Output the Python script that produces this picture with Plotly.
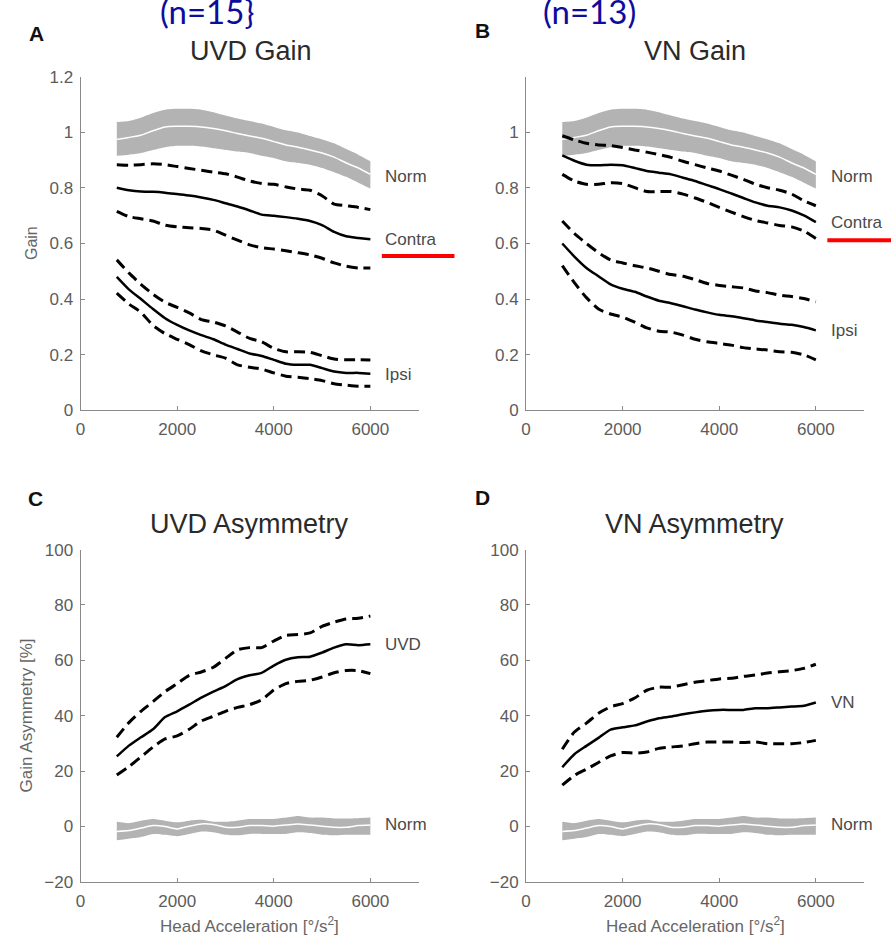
import plotly.graph_objects as go

# Head acceleration sample points [deg/s^2]
accel = [750, 1000, 1250, 1500, 1750, 2000, 2250, 2500, 2750, 3000, 3250,
         3500, 3750, 4000, 4250, 4500, 4750, 5000, 5250, 5500, 5750, 6000]

# Normal-subject gain (mean and band limits)
norm_gain_mean = [0.975, 0.982, 0.990, 1.006, 1.020, 1.022, 1.022, 1.020, 1.014, 1.006, 0.996,
                  0.987, 0.979, 0.967, 0.955, 0.947, 0.937, 0.926, 0.911, 0.890, 0.872, 0.849]
norm_gain_hi = [1.038, 1.041, 1.053, 1.070, 1.082, 1.085, 1.085, 1.082, 1.073, 1.061, 1.050,
                1.041, 1.032, 1.020, 1.008, 1.000, 0.987, 0.975, 0.961, 0.940, 0.920, 0.896]
norm_gain_lo = [0.916, 0.920, 0.926, 0.937, 0.947, 0.952, 0.952, 0.949, 0.943, 0.937, 0.931,
                0.926, 0.916, 0.908, 0.896, 0.890, 0.884, 0.872, 0.857, 0.840, 0.819, 0.798]

# UVD gain
uvd_contra_mean = [0.801, 0.792, 0.787, 0.786, 0.783, 0.778, 0.773, 0.766, 0.757, 0.745, 0.733,
                   0.719, 0.704, 0.700, 0.695, 0.689, 0.681, 0.666, 0.642, 0.626, 0.620, 0.615]
uvd_contra_hi = [0.884, 0.882, 0.884, 0.887, 0.884, 0.877, 0.870, 0.864, 0.857, 0.851, 0.839,
                 0.825, 0.816, 0.813, 0.804, 0.796, 0.792, 0.772, 0.742, 0.736, 0.730, 0.722]
uvd_contra_lo = [0.716, 0.697, 0.689, 0.681, 0.666, 0.660, 0.657, 0.654, 0.648, 0.630, 0.612,
                 0.595, 0.585, 0.580, 0.574, 0.567, 0.559, 0.547, 0.530, 0.518, 0.512, 0.512]
uvd_ipsi_mean = [0.480, 0.435, 0.400, 0.364, 0.331, 0.307, 0.287, 0.270, 0.255, 0.236, 0.220,
                 0.204, 0.195, 0.181, 0.167, 0.163, 0.163, 0.151, 0.139, 0.134, 0.134, 0.131]
uvd_ipsi_hi = [0.541, 0.494, 0.453, 0.417, 0.388, 0.370, 0.350, 0.326, 0.317, 0.303, 0.281,
               0.258, 0.246, 0.222, 0.210, 0.210, 0.208, 0.196, 0.184, 0.181, 0.181, 0.180]
uvd_ipsi_lo = [0.421, 0.382, 0.352, 0.305, 0.275, 0.255, 0.236, 0.213, 0.199, 0.187, 0.163,
               0.154, 0.148, 0.134, 0.122, 0.118, 0.113, 0.106, 0.095, 0.090, 0.086, 0.086]

# VN gain
vn_contra_mean = [0.917, 0.898, 0.884, 0.882, 0.884, 0.882, 0.872, 0.861, 0.855, 0.849, 0.837,
                  0.825, 0.810, 0.796, 0.780, 0.764, 0.748, 0.736, 0.730, 0.719, 0.701, 0.677]
vn_contra_hi = [0.988, 0.973, 0.961, 0.955, 0.953, 0.946, 0.937, 0.929, 0.920, 0.910, 0.896,
                0.884, 0.872, 0.861, 0.846, 0.831, 0.813, 0.801, 0.792, 0.778, 0.754, 0.736]
vn_contra_lo = [0.849, 0.825, 0.813, 0.813, 0.819, 0.816, 0.801, 0.787, 0.787, 0.787, 0.778,
                0.764, 0.748, 0.730, 0.713, 0.697, 0.683, 0.674, 0.665, 0.660, 0.645, 0.618]
vn_ipsi_mean = [0.600, 0.553, 0.512, 0.482, 0.453, 0.437, 0.426, 0.409, 0.394, 0.385, 0.374,
                0.362, 0.352, 0.343, 0.338, 0.331, 0.323, 0.317, 0.311, 0.307, 0.299, 0.287]
vn_ipsi_hi = [0.681, 0.636, 0.600, 0.567, 0.541, 0.530, 0.520, 0.512, 0.500, 0.488, 0.482,
              0.470, 0.456, 0.449, 0.444, 0.440, 0.429, 0.423, 0.414, 0.409, 0.402, 0.390]
vn_ipsi_lo = [0.520, 0.459, 0.405, 0.364, 0.346, 0.335, 0.317, 0.296, 0.284, 0.281, 0.270,
              0.255, 0.246, 0.240, 0.234, 0.225, 0.220, 0.216, 0.210, 0.208, 0.199, 0.181]

# Gain asymmetry [%]
norm_asym_mean = [-1.8, -1.5, -0.6, 0.3, 0.0, -0.9, 0.1, 0.9, 0.7, -0.3, -0.3,
                  0.3, 0.3, 0.1, 0.5, 0.9, 0.5, 0.1, -0.3, -0.3, 0.3, 0.5]
norm_asym_hi = [1.7, 1.2, 2.1, 2.7, 2.1, 1.5, 2.1, 2.4, 1.7, 1.7, 2.1,
                2.7, 2.7, 2.7, 3.2, 3.8, 3.2, 3.2, 2.9, 2.9, 3.0, 3.2]
norm_asym_lo = [-5.0, -4.4, -3.8, -2.7, -3.0, -3.5, -2.7, -1.8, -2.1, -3.0, -3.2,
                -2.7, -2.7, -2.7, -2.7, -2.1, -2.4, -3.0, -3.2, -3.0, -3.0, -3.0]

uvd_asym_mean = [25.3, 29.2, 32.2, 35.1, 39.5, 41.6, 44.0, 46.5, 48.7, 50.7, 53.2,
                 54.6, 55.5, 58.1, 60.2, 61.1, 61.3, 62.8, 64.6, 65.8, 65.5, 65.8]
uvd_asym_hi = [32.2, 37.5, 41.6, 45.1, 48.7, 51.6, 54.6, 55.8, 57.5, 60.7, 63.8,
               64.6, 64.6, 67.0, 69.0, 69.3, 69.9, 72.3, 73.8, 74.9, 75.2, 76.0]
uvd_asym_lo = [18.6, 21.6, 25.1, 28.7, 31.6, 32.7, 35.1, 38.1, 39.8, 41.6, 43.0,
               44.0, 45.7, 49.3, 51.6, 52.4, 52.8, 54.0, 55.5, 56.3, 56.3, 55.2]

vn_asym_mean = [21.4, 26.1, 29.1, 32.0, 35.0, 35.8, 36.5, 37.9, 39.1, 39.7, 40.5,
                41.2, 41.8, 42.1, 42.1, 42.1, 42.7, 42.7, 43.0, 43.3, 43.6, 44.8]
vn_asym_hi = [27.9, 34.1, 37.3, 40.9, 43.2, 44.4, 46.4, 49.2, 50.3, 50.3, 51.2,
              52.1, 52.7, 53.3, 53.5, 54.2, 54.7, 55.4, 55.9, 56.3, 57.1, 58.6]
vn_asym_lo = [14.9, 18.4, 20.7, 23.1, 25.5, 26.7, 26.5, 26.9, 28.2, 28.7, 29.1,
              29.9, 30.5, 30.5, 30.5, 30.3, 30.5, 29.9, 29.9, 29.9, 30.3, 31.1]

x_ticks = [0, 2000, 4000, 6000]
gain_ticks_a = [0, 0.2, 0.4, 0.6, 0.8, 1, 1.2]
gain_ticks_b = [0, 0.2, 0.4, 0.6, 0.8, 1]
asym_ticks = [-20, 0, 20, 40, 60, 80, 100]

FONT = "Liberation Sans, Arial, sans-serif"
BAND = "#b3b3b3"
AXIS = "#8a8a8a"
TICKFONT = dict(family=FONT, size=17, color="#5c5c5c")

W, H = 891, 946

fig = go.Figure()


def band(xa, ya, lo, hi, mid):
    fig.add_trace(go.Scatter(x=accel, y=lo, mode="lines", line=dict(width=0, shape="spline", smoothing=0.6),
                             xaxis=xa, yaxis=ya, hoverinfo="skip", showlegend=False))
    fig.add_trace(go.Scatter(x=accel, y=hi, mode="lines", line=dict(width=0, shape="spline", smoothing=0.6),
                             fill="tonexty", fillcolor=BAND,
                             xaxis=xa, yaxis=ya, hoverinfo="skip", showlegend=False))
    fig.add_trace(go.Scatter(x=accel, y=mid, mode="lines",
                             line=dict(color="white", width=1.5, shape="spline", smoothing=0.6),
                             xaxis=xa, yaxis=ya, hoverinfo="skip", showlegend=False))


def group(xa, ya, mean, hi, lo):
    for vals in (hi, lo):
        fig.add_trace(go.Scatter(x=accel, y=vals, mode="lines",
                                 line=dict(color="black", width=3, dash="11px,6px",
                                           shape="spline", smoothing=0.6),
                                 xaxis=xa, yaxis=ya, showlegend=False))
    fig.add_trace(go.Scatter(x=accel, y=mean, mode="lines",
                             line=dict(color="black", width=2.5, shape="spline", smoothing=0.6),
                             xaxis=xa, yaxis=ya, showlegend=False))


# A: UVD gain
band("x", "y", norm_gain_lo, norm_gain_hi, norm_gain_mean)
group("x", "y", uvd_contra_mean, uvd_contra_hi, uvd_contra_lo)
group("x", "y", uvd_ipsi_mean, uvd_ipsi_hi, uvd_ipsi_lo)
# B: VN gain
band("x2", "y2", norm_gain_lo, norm_gain_hi, norm_gain_mean)
group("x2", "y2", vn_contra_mean, vn_contra_hi, vn_contra_lo)
group("x2", "y2", vn_ipsi_mean, vn_ipsi_hi, vn_ipsi_lo)
# C: UVD asymmetry
band("x3", "y3", norm_asym_lo, norm_asym_hi, norm_asym_mean)
group("x3", "y3", uvd_asym_mean, uvd_asym_hi, uvd_asym_lo)
# D: VN asymmetry
band("x4", "y4", norm_asym_lo, norm_asym_hi, norm_asym_mean)
group("x4", "y4", vn_asym_mean, vn_asym_hi, vn_asym_lo)

left_dom = [76 / W, 416 / W]
right_dom = [524 / W, 864 / W]
top_dom = [1 - 409.3 / H, 1 - 69.3 / H]
bot_dom = [1 - 890.7 / H, 1 - 551.7 / H]


def xax(dom, anchor):
    return dict(domain=dom, anchor=anchor, range=[0, 7000], tickvals=x_ticks,
                showline=True, linecolor=AXIS, linewidth=1, ticks="inside", ticklen=4,
                tickcolor=AXIS, showgrid=False, zeroline=False, tickfont=TICKFONT,
                ticklabelstandoff=4)


def yax(dom, anchor, rng, ticks):
    return dict(domain=dom, anchor=anchor, range=rng, tickvals=ticks,
                showline=True, linecolor=AXIS, linewidth=1, ticks="inside", ticklen=4,
                tickcolor=AXIS, showgrid=False, zeroline=False, tickfont=TICKFONT,
                ticklabelstandoff=3)


ann = []


def text(x, y, s, size, color="#333333", xref="paper", yref="paper", xanchor="center",
         angle=0, family=FONT, bold=False):
    ann.append(dict(x=x, y=y, xref=xref, yref=yref, text=("<b>%s</b>" % s) if bold else s,
                    showarrow=False, xanchor=xanchor, yanchor="middle", textangle=angle,
                    font=dict(family=family, size=size, color=color)))


# panel titles
text(247 / W, 1 - 43 / H, "UVD Gain", 27, "#2a2a2a")
text(694 / W, 1 - 43 / H, "VN Gain", 27, "#2a2a2a")
text(246 / W, 1 - 526 / H, "UVD Asymmetry", 27, "#2a2a2a")
text(693 / W, 1 - 526 / H, "VN Asymmetry", 27, "#2a2a2a")

# panel letters
text(32 / W, 1 - 25 / H, "A", 21, "#111111", bold=True)
text(480 / W, 1 - 22 / H, "B", 21, "#111111", bold=True)
text(31 / W, 1 - 500 / H, "C", 21, "#111111", bold=True)
text(480 / W, 1 - 499 / H, "D", 21, "#111111", bold=True)

# group sizes
text(203 / W, 1 - 2 / H, "(n=15}", 33, "#0d0d9c", family="Lato, Carlito, sans-serif")
text(588 / W, 1 - 2 / H, "(n=13)", 33, "#0d0d9c", family="Lato, Carlito, sans-serif")

# axis titles
text(26 / W, 1 - 239 / H, "Gain", 16, "#666666", angle=-90)
text(22 / W, 1 - 721 / H, "Gain Asymmetry [%]", 17, "#666666", angle=-90)
text(246 / W, 1 - 935 / H, "Head Acceleration [°/s<sup>2</sup>]", 17, "#666666")
text(694 / W, 1 - 935 / H, "Head Acceleration [°/s<sup>2</sup>]", 17, "#666666")

# curve labels
LBL = "#4a4a4a"
text(6270, 0.84, "Norm", 17, LBL, "x", "y", "left")
text(6270, 0.616, "Contra", 17, LBL, "x", "y", "left")
text(6270, 0.129, "Ipsi", 17, LBL, "x", "y", "left")
text(6270, 0.84, "Norm", 17, LBL, "x2", "y2", "left")
text(6270, 0.675, "Contra", 17, LBL, "x2", "y2", "left")
text(6270, 0.285, "Ipsi", 17, LBL, "x2", "y2", "left")
text(6270, 65.6, "UVD", 17, LBL, "x3", "y3", "left")
text(6270, 0.8, "Norm", 17, LBL, "x3", "y3", "left")
text(6270, 44.7, "VN", 17, LBL, "x4", "y4", "left")
text(6270, 0.8, "Norm", 17, LBL, "x4", "y4", "left")

shapes = [
    dict(type="line", xref="paper", yref="paper", x0=379 / W, x1=452 / W,
         y0=1 - 252 / H, y1=1 - 252 / H, line=dict(color="#ff0000", width=4)),
    dict(type="line", xref="paper", yref="paper", x0=827 / W, x1=1.0,
         y0=1 - 236 / H, y1=1 - 236 / H, line=dict(color="#ff0000", width=4)),
]

fig.update_layout(
    width=W, height=H, margin=dict(l=0, r=0, t=0, b=0),
    paper_bgcolor="white", plot_bgcolor="white", showlegend=False,
    xaxis=xax(left_dom, "y"), yaxis=yax(top_dom, "x", [0, 1.2], gain_ticks_a),
    xaxis2=xax(right_dom, "y2"), yaxis2=yax(top_dom, "x2", [0, 1.2], gain_ticks_b),
    xaxis3=xax(left_dom, "y3"), yaxis3=yax(bot_dom, "x3", [-20, 100], asym_ticks),
    xaxis4=xax(right_dom, "y4"), yaxis4=yax(bot_dom, "x4", [-20, 100], asym_ticks),
    annotations=ann, shapes=shapes,
)

fig.write_html("out.html")
